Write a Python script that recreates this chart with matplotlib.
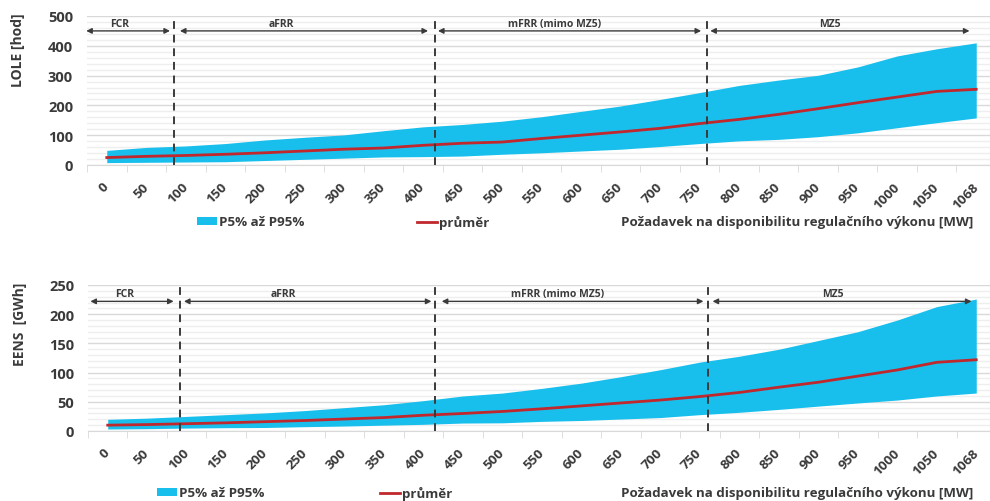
import numpy as np
import matplotlib
matplotlib.use("Agg")
import matplotlib.pyplot as plt
from matplotlib.patches import Patch
from matplotlib.lines import Line2D
from matplotlib.ticker import MultipleLocator

plt.rcParams['font.family'] = ['Open Sans', 'DejaVu Sans']
plt.rcParams['font.weight'] = 'bold'

# pozadavek na disponibilitu [MW]
categories = ['0', '50', '100', '150', '200', '250', '300', '350', '400', '450', '500',
              '550', '600', '650', '700', '750', '800', '850', '900', '950', '1000',
              '1050', '1068']

# LOLE [hod]
lole_p5 = [8, 9, 10, 11, 15, 19, 23, 27, 28, 30, 36, 41, 47, 53, 62, 72, 81, 86, 95,
           108, 125, 142, 158]
lole_mean = [25, 29, 32, 36, 41, 47, 53, 57, 66, 73, 77, 89, 100, 111, 123, 139, 153,
             170, 189, 209, 228, 247, 254]
lole_p95 = [49, 59, 64, 72, 84, 93, 101, 115, 128, 136, 147, 162, 180, 198, 220, 243,
            267, 285, 301, 329, 366, 390, 410]

# EENS [GWh]
eens_p5 = [3.4, 4, 5, 5.7, 6, 7.4, 8.5, 10, 11.4, 13.6, 14, 16.5, 18, 20.5, 23, 28, 32,
           37, 42.6, 48, 53, 60, 65]
eens_mean = [10, 11, 12.5, 14, 16, 18, 20.5, 23, 27, 30, 33.5, 38, 43, 48, 53, 59, 66,
             75, 83.5, 94, 104.5, 117.6, 122]
eens_p95 = [20, 22, 25, 28, 31, 35, 40, 45, 52, 60, 65, 73, 82, 93, 105, 118, 128, 140,
            155, 170, 190, 213, 226]

# hranice FCR / aFRR / mFRR / MZ5 (v pozicich kategorii)
bounds_lole = [1.70, 8.30, 15.19]
bounds_eens = [1.83, 8.30, 15.20]
zones = ['FCR', 'aFRR', 'mFRR (mimo MZ5)', 'MZ5']

BLUE = '#19BFEC'
RED = '#C0282D'
TXT = '#3A3A3A'

W, H = 990, 502
fig = plt.figure(figsize=(W / 100, H / 100), dpi=100)


def axes_px(left, right, top, bottom):
    return fig.add_axes([left / W, 1 - bottom / H, (right - left) / W, (bottom - top) / H])


def draw_panel(ax, p5, mean, p95, ymax, ystep, yminor, bounds, arrows, arrow_y, lab_x, lab_y):
    x = np.arange(len(categories))
    ax.fill_between(x, p5, p95, color=BLUE, lw=0, zorder=2)
    ax.plot(x, mean, color=RED, lw=2, zorder=3)

    ax.set_xlim(-0.5, len(categories) - 0.5)
    ax.set_ylim(0, ymax)
    ax.yaxis.set_major_locator(MultipleLocator(ystep))
    ax.yaxis.set_minor_locator(MultipleLocator(yminor))
    ax.grid(axis='y', which='major', color='#D9D9D9', lw=1, zorder=0)
    ax.grid(axis='y', which='minor', color='#EEEEEE', lw=1, zorder=0)
    ax.set_axisbelow(True)
    for s in ['top', 'right', 'left']:
        ax.spines[s].set_visible(False)
    ax.spines['bottom'].set_color('#D9D9D9')

    ax.set_xticks(x)
    ax.set_xticklabels(categories, rotation=45, ha='right', va='center',
                       rotation_mode='anchor')
    ax.set_xticks(np.arange(len(categories) + 1) - 0.5, minor=True)
    ax.tick_params(axis='x', which='major', length=0, pad=14, labelsize=9.7,
                   labelcolor=TXT)
    ax.tick_params(axis='x', which='minor', length=5, color='#D9D9D9')
    ax.tick_params(axis='y', which='both', length=0, pad=10, labelsize=10.5,
                   labelcolor=TXT)

    for b in bounds:
        ax.axvline(b, color=TXT, lw=1.4, ls=(0, (4, 3)), zorder=4)

    for (x0, x1) in arrows:
        ax.annotate('', xy=(x1, arrow_y), xytext=(x0, arrow_y),
                    arrowprops=dict(arrowstyle='<|-|>', color=TXT, lw=1,
                                    mutation_scale=8, shrinkA=0, shrinkB=0),
                    zorder=5)
    for name, lx in zip(zones, lab_x):
        ax.text(lx, lab_y, name, ha='center', va='center', fontsize=7.5,
                color=TXT, zorder=5)


ax1 = axes_px(87, 996, 17, 166)
draw_panel(ax1, lole_p5, lole_mean, lole_p95, 500, 100, 20, bounds_lole,
           [(-0.52, 1.60), (1.85, 8.13), (8.38, 15.04), (15.27, 21.83)], 450,
           [0.33, 4.41, 11.32, 18.3], 476)

ax2 = axes_px(88, 996, 286, 432)
draw_panel(ax2, eens_p5, eens_mean, eens_p95, 250, 50, 10, bounds_eens,
           [(-0.44, 1.67), (1.93, 8.2), (8.46, 15.09), (15.32, 21.88)], 222,
           [0.44, 4.46, 11.4, 18.36], 236)

fig.text(18 / W, 1 - 50 / H, 'LOLE [hod]', rotation=90, ha='center', va='center',
         fontsize=10, color=TXT)
fig.text(20 / W, 1 - 324 / H, 'EENS  [GWh]', rotation=90, ha='center', va='center',
         fontsize=10, color=TXT)

xlabel = 'Požadavek na disponibilitu regulačního výkonu [MW]'
fig.text(973 / W, 1 - 226 / H, xlabel, ha='right', va='baseline', fontsize=9.6, color=TXT)
fig.text(973 / W, 1 - 497 / H, xlabel, ha='right', va='baseline', fontsize=9.6, color=TXT)

h_band = Patch(facecolor=BLUE, edgecolor='none')
h_mean = Line2D([], [], color=RED, lw=2)


def legend_at(handle, label, x, y):
    fig.legend([handle], [label], loc='center left', bbox_to_anchor=(x / W, 1 - y / H),
               frameon=False, fontsize=9.6, handlelength=1.5, handleheight=0.6,
               handletextpad=0.15, borderpad=0, borderaxespad=0, labelcolor=TXT)


legend_at(h_band, 'P5% až P95%', 197, 223)
legend_at(h_mean, 'průměr', 417, 223)
legend_at(h_band, 'P5% až P95%', 157, 494)
legend_at(h_mean, 'průměr', 380, 494)

fig.savefig('out.png', dpi=100)
